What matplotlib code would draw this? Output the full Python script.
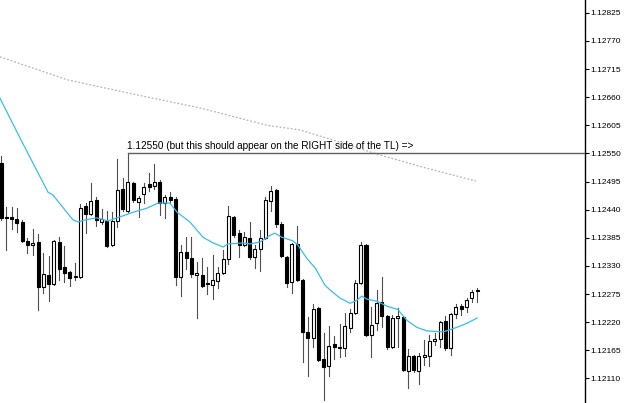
import matplotlib
matplotlib.use("Agg")
import matplotlib.pyplot as plt
from matplotlib.patches import Rectangle

# OHLC, one entry per bar (left to right)
opens = [1.12531, 1.12426, 1.12426, 1.12422, 1.12416, 1.12379, 1.12371, 1.12377, 1.12289, 1.12312,
         1.12295, 1.12377, 1.12328, 1.12318, 1.12308, 1.12308, 1.12447, 1.12431, 1.12459, 1.12416,
         1.12418, 1.12371, 1.12418, 1.12480, 1.12437, 1.12492, 1.12455, 1.12471, 1.12490, 1.12486,
         1.12494, 1.12453, 1.12465, 1.12461, 1.12308, 1.12357, 1.12345, 1.12312, 1.12312, 1.12297,
         1.12293, 1.12300, 1.12316, 1.12343, 1.12426, 1.12394, 1.12371, 1.12384, 1.12347, 1.12363,
         1.12384, 1.12457, 1.12478, 1.12412, 1.12347, 1.12298, 1.12373, 1.12302, 1.12201, 1.12189,
         1.12247, 1.12148, 1.12134, 1.12177, 1.12169, 1.12169, 1.12208, 1.12238, 1.12297, 1.12371,
         1.12195, 1.12218, 1.12259, 1.12232, 1.12171, 1.12228, 1.12230, 1.12124, 1.12154, 1.12124,
         1.12152, 1.12154, 1.12183, 1.12187, 1.12222, 1.12169, 1.12236, 1.12251, 1.12249, 1.12267,
         1.12281]
highs = [1.12545, 1.12445, 1.12445, 1.12443, 1.12420, 1.12384, 1.12402, 1.12392, 1.12355, 1.12349,
         1.12381, 1.12386, 1.12369, 1.12320, 1.12336, 1.12451, 1.12453, 1.12492, 1.12465, 1.12441,
         1.12437, 1.12435, 1.12539, 1.12502, 1.12550, 1.12494, 1.12467, 1.12492, 1.12512, 1.12529,
         1.12498, 1.12469, 1.12474, 1.12465, 1.12371, 1.12386, 1.12386, 1.12338, 1.12345, 1.12328,
         1.12351, 1.12328, 1.12361, 1.12447, 1.12427, 1.12400, 1.12396, 1.12416, 1.12371, 1.12400,
         1.12465, 1.12486, 1.12480, 1.12416, 1.12349, 1.12375, 1.12408, 1.12304, 1.12230, 1.12255,
         1.12249, 1.12199, 1.12212, 1.12193, 1.12216, 1.12238, 1.12245, 1.12302, 1.12377, 1.12373,
         1.12249, 1.12283, 1.12308, 1.12234, 1.12234, 1.12247, 1.12232, 1.12167, 1.12156, 1.12160,
         1.12185, 1.12195, 1.12199, 1.12222, 1.12232, 1.12238, 1.12255, 1.12255, 1.12267, 1.12283,
         1.12287]
lows = [1.12420, 1.12361, 1.12402, 1.12396, 1.12377, 1.12355, 1.12351, 1.12244, 1.12277, 1.12261,
        1.12293, 1.12302, 1.12298, 1.12291, 1.12302, 1.12306, 1.12394, 1.12429, 1.12408, 1.12412,
        1.12367, 1.12369, 1.12406, 1.12437, 1.12435, 1.12455, 1.12426, 1.12453, 1.12476, 1.12480,
        1.12429, 1.12424, 1.12453, 1.12293, 1.12271, 1.12324, 1.12308, 1.12228, 1.12289, 1.12275,
        1.12265, 1.12287, 1.12314, 1.12334, 1.12386, 1.12347, 1.12369, 1.12343, 1.12326, 1.12320,
        1.12383, 1.12437, 1.12406, 1.12347, 1.12289, 1.12277, 1.12300, 1.12142, 1.12115, 1.12171,
        1.12144, 1.12068, 1.12115, 1.12148, 1.12152, 1.12154, 1.12201, 1.12236, 1.12295, 1.12193,
        1.12152, 1.12205, 1.12210, 1.12167, 1.12169, 1.12171, 1.12124, 1.12091, 1.12122, 1.12099,
        1.12136, 1.12134, 1.12175, 1.12171, 1.12165, 1.12156, 1.12228, 1.12234, 1.12240, 1.12259,
        1.12259]
closes = [1.12424, 1.12424, 1.12422, 1.12414, 1.12379, 1.12371, 1.12375, 1.12289, 1.12314, 1.12295,
          1.12379, 1.12324, 1.12316, 1.12306, 1.12310, 1.12443, 1.12431, 1.12457, 1.12420, 1.12422,
          1.12369, 1.12418, 1.12478, 1.12441, 1.12494, 1.12459, 1.12463, 1.12484, 1.12484, 1.12494,
          1.12453, 1.12465, 1.12459, 1.12308, 1.12357, 1.12345, 1.12314, 1.12316, 1.12291, 1.12295,
          1.12302, 1.12316, 1.12343, 1.12427, 1.12390, 1.12371, 1.12386, 1.12347, 1.12363, 1.12384,
          1.12459, 1.12476, 1.12412, 1.12349, 1.12297, 1.12373, 1.12302, 1.12201, 1.12189, 1.12245,
          1.12146, 1.12132, 1.12173, 1.12171, 1.12171, 1.12212, 1.12238, 1.12297, 1.12371, 1.12195,
          1.12214, 1.12257, 1.12232, 1.12171, 1.12228, 1.12232, 1.12126, 1.12154, 1.12126, 1.12154,
          1.12156, 1.12183, 1.12187, 1.12220, 1.12169, 1.12236, 1.12249, 1.12245, 1.12263, 1.12279,
          1.12283]

# fast moving average (blue), read at bar positions
ma_fast_x = [-0.2, 3.8, 6.05, 8.9, 9.8, 13.6, 14.6, 15.9, 18.1, 20.2, 22.5, 25.0, 27.6, 29.7,
             31.9, 33.3, 35.7, 38.2, 40.1, 42.0, 42.9, 45.7, 47.1, 49.0, 50.9, 51.8, 53.1, 55.2,
             56.1, 57.8, 59.4, 61.2, 62.2, 64.1, 66.0, 67.3, 68.2, 69.2, 71.1, 73.0, 75.0, 76.7,
             78.6, 80.5, 83.6, 86.2, 88.1, 90.0]
ma_fast_y = [1.12658, 1.12576, 1.12531, 1.12474, 1.12469, 1.12420, 1.12416, 1.12420, 1.12424,
             1.12418, 1.12426, 1.12435, 1.12443, 1.12453, 1.12453, 1.12435, 1.12416, 1.12386,
             1.12375, 1.12367, 1.12373, 1.12375, 1.12373, 1.12377, 1.12390, 1.12394, 1.12386,
             1.12379, 1.12371, 1.12345, 1.12326, 1.12293, 1.12283, 1.12267, 1.12257, 1.12263,
             1.12271, 1.12265, 1.12261, 1.12251, 1.12245, 1.12224, 1.12210, 1.12203, 1.12201,
             1.12210, 1.12218, 1.12228]

# slow moving average (grey dotted)
ma_slow_x = [-0.2, 12.5, 25.0, 37.6, 50.3, 56.5, 64.1, 71.6, 80.5, 89.8]
ma_slow_y = [1.12739, 1.12694, 1.12666, 1.12639, 1.12605, 1.12596, 1.12572, 1.12547, 1.12521, 1.12496]

# horizontal trend line
tl_start = 24
tl_price = 1.12550
tl_text = "1.12550 (but this should appear on the RIGHT side of the TL) =>"

price_ticks = [1.12825, 1.12770, 1.12715, 1.12660, 1.12605, 1.12550, 1.12495, 1.12440,
               1.12385, 1.12330, 1.12275, 1.12220, 1.12165, 1.12110]

BODY_W = 0.57

fig = plt.figure(figsize=(6.25, 4.03), dpi=100)
ax = fig.add_axes([0, 0, 585 / 625, 1])

# candles
for i, (o, h, l, c) in enumerate(zip(opens, highs, lows, closes)):
    ax.plot([i, i], [l, h], color='#505050', linewidth=0.8, zorder=2)
    bottom = min(o, c)
    height = max(abs(c - o), 0.000015)
    face = 'white' if c >= o else 'black'
    ax.add_patch(Rectangle((i - BODY_W / 2, bottom), BODY_W, height,
                           facecolor=face, edgecolor='black', linewidth=0.8, zorder=3))

# moving averages
ax.plot(ma_fast_x, ma_fast_y, color='#38bdf0', linewidth=0.9, zorder=4)
ax.plot(ma_slow_x, ma_slow_y, color='#b4b4b4', linewidth=0.9, linestyle=(0, (1.5, 1.5)), zorder=1)

# trend line with its label
ax.plot([tl_start, 200], [tl_price, tl_price], color='#606060', linewidth=1.0, zorder=5)
ax.text(tl_start - 0.1, tl_price + 0.00005, tl_text, fontsize=7.2, family='Liberation Sans',
        color='black', ha='left', va='bottom', zorder=6)

ax.set_xlim(-0.19, 110.4)
ax.set_ylim(1.12062, 1.12850)

for side in ['left', 'top', 'bottom']:
    ax.spines[side].set_visible(False)
ax.spines['right'].set_color('black')
ax.spines['right'].set_linewidth(1.0)
ax.set_xticks([])
ax.yaxis.tick_right()
ax.set_yticks(price_ticks)
ax.set_yticklabels([f'{p:.5f}' for p in price_ticks], family='Liberation Sans')
ax.tick_params(axis='y', direction='out', length=3, width=0.8, labelsize=6, pad=1, colors='black')

fig.savefig('out.png', dpi=100, facecolor='white')
